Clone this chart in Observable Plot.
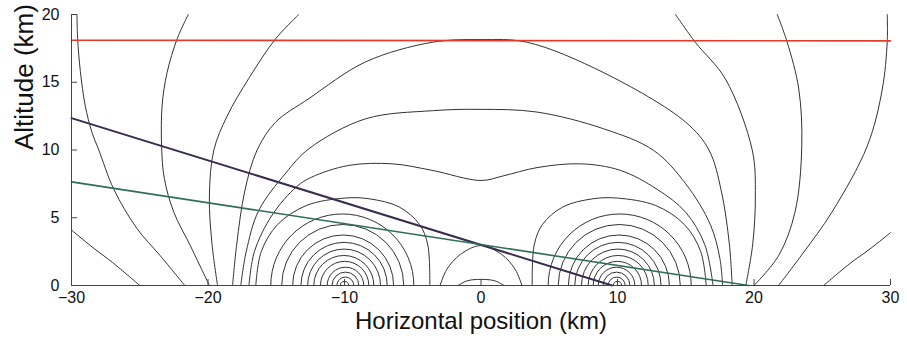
<!DOCTYPE html>
<html><head><meta charset="utf-8">
<script src="https://cdn.jsdelivr.net/npm/d3@7"></script>
<script src="https://cdn.jsdelivr.net/npm/@observablehq/plot@0.6"></script>
<style>body{margin:0;background:#fff}svg{font-family:"Liberation Sans",Arial,sans-serif}</style>
</head><body><div id="chart"></div>
<script>
const xTicks = [-30,-20,-10,0,10,20,30];
const yTicks = [0,5,10,15,20];
const xTitle = "Horizontal position (km)";
const yTitle = "Altitude (km)";

// reference lines [x, altitude]
const redLine = [[-30,18.1],[30,18.05]];
const purpleLine = [[-30,12.35],[9.6,0]];
const greenLine = [[-30,7.65],[19.6,0]];

// small nested loops around the two sources: [centre x, radius]
const loopsLeft = [[-10,0.3],[-9.94,0.62],[-9.93,0.98],[-9.93,1.34],[-9.99,1.77],[-10.05,2.2],[-10.03,2.67],[-10.03,3.16],[-10.1,3.7],[-10.13,4.47],[-10.16,5.24]];
const loopsRight = [[10,0.3],[9.94,0.62],[9.93,0.98],[9.93,1.34],[9.99,1.77],[10.05,2.2],[10.03,2.67],[10.03,3.16],[10.1,3.7],[10.13,4.47],[10.16,5.24]];

// contour polylines [x, altitude]
const cA_L = [[-30,4.1],[-28.5,2.85],[-27,1.7],[-25,0]];
const cA_R = [[30,3.9],[28.5,2.7],[27,1.6],[25.1,0]];
const c1_L = [[-29.6,20],[-29.55,18.2],[-29.35,15.8],[-29.0,13.3],[-28.5,11.3],[-28.0,10.0],[-26.9,7.1],[-25.2,4.2],[-23.5,2.2],[-21.7,0]];
const c1_R = [[29.76,20],[29.76,18],[29.4,14.5],[28.3,10.3],[25.7,5.4],[23.6,2.4],[21.8,0]];
const c2_L = [[-21.45,20],[-22.26,18.2],[-23.0,15.7],[-23.36,13.3],[-23.4,10.3],[-23.2,7.9],[-22.5,5.4],[-21.3,2.95],[-19.9,0]];
const c2_R = [[21.7,20],[22.43,17.96],[23.28,14.5],[23.5,10.3],[23.0,5.4],[21.8,2.2],[20.0,0]];
const c3_L = [[-13.35,20],[-15.05,18.2],[-17.0,15.3],[-18.6,12.5],[-19.57,10],[-19.9,6.6],[-19.7,3],[-19.3,0]];
const c3_R = [[14.25,20],[15.7,17.95],[17.9,15.25],[19.87,10],[20.1,6.6],[19.9,3],[19.4,0]];
const cB1 = [[-18.2,0],[-17.9,3],[-17.3,7],[-16.4,10],[-15.05,12.05],[-12.6,13.8],[-8.46,16.5],[-3.57,17.95],[0,18.15],[3.38,17.95],[9.0,15.7],[15.0,12.05],[16.7,10],[17.6,7],[18.2,3],[18.4,0]];
const cB2 = [[-17.6,0],[-17.2,2.5],[-16.3,5.5],[-14.3,8.3],[-12.6,10.1],[-8.46,12.3],[-3.57,12.9],[0,13.0],[4.1,12.8],[9.0,11.56],[12.66,9.96],[15.0,7.5],[16.8,4.5],[17.5,2],[17.7,0]];
const cP = [[-17.0,0],[-16.6,2.5],[-15.3,5.2],[-13.5,7.3],[-12.4,8.0],[-9.7,8.86],[-6.5,8.98],[-3.6,8.5],[0,7.75],[1.67,8.1],[4.1,8.7],[7.3,8.98],[10.2,8.5],[12.9,7.1],[15.0,5.4],[16.4,3],[17.0,0]];
const cLoopBig_L = [[-16.5,0],[-16.1,2.5],[-14.9,4.5],[-12.8,5.9],[-10,6.45],[-8.2,6.4],[-6.0,5.8],[-4.5,4.5],[-3.9,3.0],[-3.75,0]];
const cLoopBig_R = [[16.5,0],[16.1,2.5],[14.9,4.5],[12.8,5.9],[10,6.45],[8.2,6.4],[6.0,5.8],[4.5,4.5],[3.9,3.0],[3.75,0]];
const cO2 = [[-3,0],[-2.5,1.2],[-1.5,2.3],[0,2.95],[1.5,2.3],[2.5,1.2],[3,0]];
const cO1 = [[-1.7,0],[-1.0,0.35],[0,0.45],[1.0,0.35],[1.7,0]];

const contours = [cA_L,cA_R,c1_L,c1_R,c2_L,c2_R,c3_L,c3_R,cB1,cB2,cP,cLoopBig_L,cLoopBig_R,cO2,cO1];

const W = 907, H = 347, mL = 71, mR = 17, mT = 14, mB = 62;
const pxPerKm = (W - mL - mR) / 60;
const ink = "#333";
const tickLen = 0.44;

const marks = [];
for (const c of contours) {
  marks.push(Plot.line(c, {x: d => d[0], y: d => d[1], curve: "catmull-rom", stroke: ink, strokeWidth: 1}));
}
marks.push(Plot.dot(loopsLeft.concat(loopsRight), {x: d => d[0], y: 0, r: d => d[1], stroke: ink, strokeWidth: 1, fill: "none", clip: true}));
marks.push(Plot.line(redLine, {x: d => d[0], y: d => d[1], stroke: "#e23a2c", strokeWidth: 1.6}));
marks.push(Plot.line(purpleLine, {x: d => d[0], y: d => d[1], stroke: "#3a2c50", strokeWidth: 2}));
marks.push(Plot.line(greenLine, {x: d => d[0], y: d => d[1], stroke: "#2f6e56", strokeWidth: 1.6}));
// axes
marks.push(Plot.ruleY([0], {x1: -30, x2: 30, stroke: "#444"}));
marks.push(Plot.ruleX([-30], {y1: 0, y2: 20, stroke: "#444"}));
marks.push(Plot.ruleX(xTicks, {x: d => d, y1: 0, y2: tickLen, stroke: "#444"}));
marks.push(Plot.ruleY(yTicks, {y: d => d, x1: -30, x2: -30 + tickLen, stroke: "#444"}));
marks.push(Plot.text(xTicks, {x: d => d, y: 0, dy: 12, text: d => d < 0 ? "\u2212" + Math.abs(d) : String(d), fontSize: 16, fill: "#111"}));
marks.push(Plot.text(yTicks, {x: -30, y: d => d, dx: -12, textAnchor: "end", text: d => String(d), fontSize: 16, fill: "#111"}));
marks.push(Plot.text([xTitle], {frameAnchor: "bottom", dy: 43, fontSize: 24, fill: "#111"}));
marks.push(Plot.text([yTitle], {frameAnchor: "left", dx: -47, rotate: -90, fontSize: 26, fill: "#111"}));

const chart = Plot.plot({
  width: W, height: H,
  marginLeft: mL, marginRight: mR, marginTop: mT, marginBottom: mB,
  x: {domain: [-30, 30], axis: null},
  y: {domain: [0, 20], axis: null},
  r: {type: "linear", domain: [0, 1], range: [0, pxPerKm]},
  marks
});
document.getElementById("chart").appendChild(chart);
</script>
</body></html>
